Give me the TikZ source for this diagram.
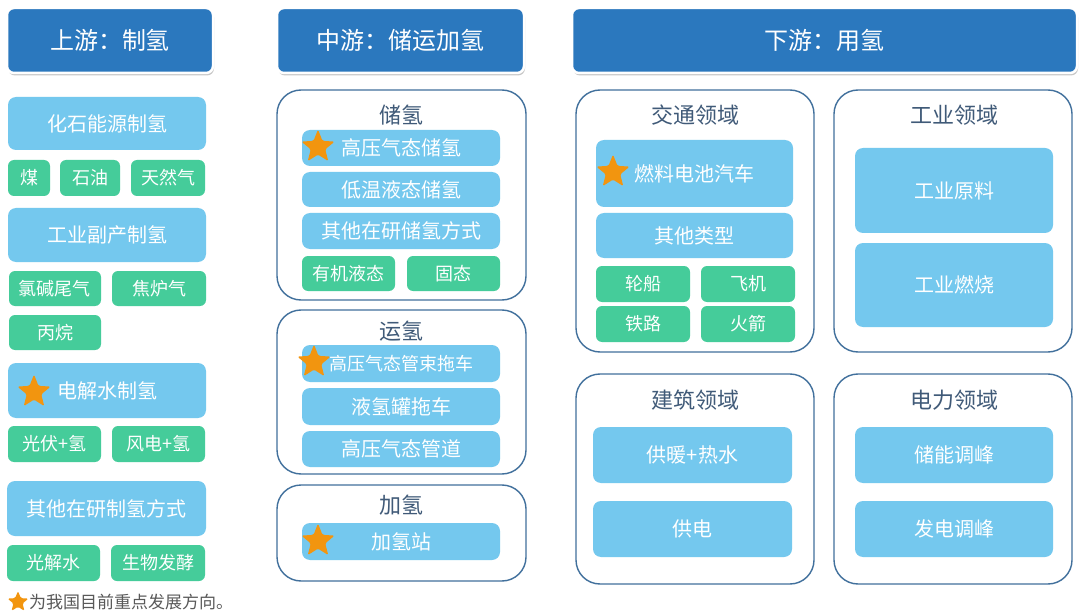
\documentclass[tikz,border=0pt]{standalone}
\usepackage{fontspec}
\setmainfont{Noto Sans CJK SC}
\usetikzlibrary{shapes.geometric,shadows}
\definecolor{hdrblue}{HTML}{2B78BE}
\definecolor{lblue}{HTML}{74C8EE}
\definecolor{lgreen}{HTML}{45CC9A}
\definecolor{cborder}{HTML}{41709C}
\definecolor{ctitle}{HTML}{405A78}
\definecolor{starorg}{HTML}{F2950F}
\definecolor{legendgray}{HTML}{595959}
\newcommand{\mybox}[7]{\node[#1, minimum width={#4-#2}, minimum height={#5-#3}] (#7) at ({(#2+#4)/2},{(#3+#5)/2}) {#6};}
\tikzset{
  hdr/.style={fill=hdrblue, draw=white, line width=2.5pt, rounded corners=7pt, text=white, font=\fontsize{24}{28}\selectfont, inner sep=0pt,
    drop shadow={shadow xshift=1pt, shadow yshift=-2.5pt, opacity=0.3, fill=black!70}},
  lb/.style={fill=lblue, rounded corners=8pt, text=white, font=\fontsize{20}{24}\selectfont, inner sep=0pt},
  lbs/.style={lb, font=\fontsize{18}{22}\selectfont},
  gb/.style={fill=lgreen, rounded corners=6pt, text=white, font=\fontsize{18}{22}\selectfont, inner sep=0pt},
  cont/.style={draw=cborder, line width=1.4pt, rounded corners=24pt, fill=white, inner sep=0pt},
  ctl/.style={text=ctitle, font=\fontsize{22}{26}\selectfont, inner sep=0pt},
  bigstar/.style={star, star points=5, star point ratio=2.3, fill=starorg, rounded corners=1.5pt, minimum size=35pt, inner sep=0pt},
}
\begin{document}
\begin{tikzpicture}[x=1pt,y=-1pt]
\fill[white] (0,0) rectangle (1080,615);
\useasboundingbox (0,0) rectangle (1080,615);
% headers
\mybox{hdr}{7}{8}{213}{73}{上游：制氢}{h1}
\mybox{hdr}{277}{8}{524}{73}{中游：储运加氢}{h2}
\mybox{hdr}{572}{8}{1077}{73}{下游：用氢}{h3}
% left column
\mybox{lb}{8}{97}{206}{150}{化石能源制氢}{fossil}
\mybox{gb}{8}{160}{50}{196}{煤}{coal}
\mybox{gb}{60}{160}{120}{196}{石油}{oil}
\mybox{gb}{131}{160}{205}{196}{天然气}{gas}
\mybox{lb}{8}{208}{206}{262}{工业副产制氢}{indby}
\mybox{gb}{9}{271}{101}{306}{氯碱尾气}{chlor}
\mybox{gb}{112}{271}{206}{306}{焦炉气}{coke}
\mybox{gb}{9}{315}{101}{350}{丙烷}{prop}
\mybox{lb}{8}{363}{206}{418}{电解水制氢}{elec}
\node[bigstar] (selec) at (34,392) {};
\mybox{gb}{8}{426}{101}{462}{光伏+氢}{pv}
\mybox{gb}{112}{426}{205}{462}{风电+氢}{wind}
\mybox{lb}{7}{481}{206}{536}{其他在研制氢方式}{othprod}
\mybox{gb}{7}{545}{100}{581}{光解水}{photo}
\mybox{gb}{111}{545}{205}{581}{生物发酵}{bio}
\node[bigstar, minimum size=22pt] (slegend) at (18,602) {};
\node[anchor=west, text=legendgray, font=\fontsize{17}{20}\selectfont, inner sep=0pt] (legend) at (29,602) {为我国目前重点发展方向。};
% middle column
\mybox{cont}{277}{90}{526}{300}{}{cstore}
\node[ctl] (tstore) at (401,115) {储氢};
\mybox{lb}{302}{130}{500}{166}{高压气态储氢}{hpstore}
\node[bigstar] (shp) at (318,147) {};
\mybox{lb}{302}{172}{500}{207}{低温液态储氢}{lowstore}
\mybox{lb}{302}{213}{500}{249}{其他在研储氢方式}{othstore}
\mybox{gb}{302}{256}{395}{291}{有机液态}{org}
\mybox{gb}{407}{256}{500}{291}{固态}{solid}
\mybox{cont}{277}{310}{526}{474}{}{ctrans}
\node[ctl] (ttrans) at (401,331) {运氢};
\mybox{lbs}{302}{345}{500}{382}{高压气态管束拖车}{tube}
\node[bigstar] (stube) at (314,362) {};
\mybox{lb}{302}{388}{500}{425}{液氢罐拖车}{liqtrail}
\mybox{lb}{302}{431}{500}{467}{高压气态管道}{pipe}
\mybox{cont}{277}{485}{526}{581}{}{cfill}
\node[ctl] (tfill) at (401,505) {加氢};
\mybox{lb}{302}{523}{500}{560}{加氢站}{station}
\node[bigstar] (sstation) at (318,541) {};
% right column
\mybox{cont}{576}{90}{814}{352}{}{ctraffic}
\node[ctl] (ttraffic) at (695,115) {交通领域};
\mybox{lb}{596}{140}{793}{207}{燃料电池汽车}{fcv}
\node[bigstar] (sfcv) at (613,172) {};
\mybox{lb}{596}{213}{793}{258}{其他类型}{othtype}
\mybox{gb}{596}{266}{690}{302}{轮船}{ship}
\mybox{gb}{701}{266}{795}{302}{飞机}{plane}
\mybox{gb}{596}{306}{690}{342}{铁路}{rail}
\mybox{gb}{701}{306}{795}{342}{火箭}{rocket}
\mybox{cont}{834}{90}{1072}{352}{}{cind}
\node[ctl] (tind) at (954,115) {工业领域};
\mybox{lb}{855}{148}{1053}{233}{工业原料}{raw}
\mybox{lb}{855}{243}{1053}{327}{工业燃烧}{burn}
\mybox{cont}{576}{374}{814}{584}{}{cbuild}
\node[ctl] (tbuild) at (695,400) {建筑领域};
\mybox{lb}{593}{427}{792}{483}{供暖+热水}{heat}
\mybox{lb}{593}{501}{792}{557}{供电}{power}
\mybox{cont}{834}{374}{1072}{584}{}{cpow}
\node[ctl] (tpow) at (954,400) {电力领域};
\mybox{lb}{855}{427}{1053}{483}{储能调峰}{storpeak}
\mybox{lb}{855}{501}{1053}{557}{发电调峰}{genpeak}
\end{tikzpicture}
\end{document}
